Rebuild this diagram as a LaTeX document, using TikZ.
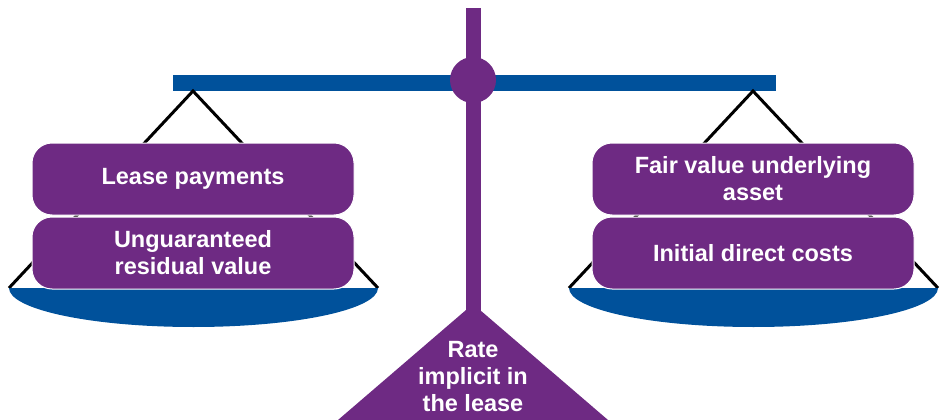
\documentclass[tikz,border=0pt]{standalone}
\usepackage{fontspec}
\setmainfont{Liberation Sans}
\definecolor{kpurple}{HTML}{6E2A83}
\definecolor{kblue}{HTML}{00519B}
\begin{document}
\begin{tikzpicture}[x=1pt,y=-1pt,
  box/.style={rectangle, rounded corners=20pt, fill=kpurple, draw=white, line width=1pt,
    minimum width=322pt, minimum height=72pt, text=white, align=center, inner sep=0pt,
    font=\fontsize{23.5}{27}\selectfont\bfseries},
  lbl/.style={text=white, align=center, inner sep=0pt, font=\fontsize{23.5}{27}\selectfont\bfseries},
  hanger/.style={black, line width=3pt},
  panfill/.style={fill=kblue},
  partfill/.style={fill=kpurple}]
\useasboundingbox (0,0) rectangle (943,420);
% pillar and base
\fill[partfill] (466,8) rectangle (480.5,320);
\fill[partfill] (473,304) -- (608,420) -- (338,420) -- cycle;
\node[lbl] (rate) at (473,377) {Rate\\implicit in\\the lease};
% beam and pivot
\fill[panfill] (173,75) rectangle (776,91);
\fill[partfill] (473,80) circle (23pt);
% hanger points
\coordinate (lh) at (193,91);
\coordinate (lpl) at (9,288);
\coordinate (lpr) at (378,288);
\coordinate (rh) at (753,91);
\coordinate (rpl) at (569,288);
\coordinate (rpr) at (938,288);
\draw[hanger] (lpl) -- (lh) -- (lpr);
\draw[hanger] (rpl) -- (rh) -- (rpr);
% pans
\begin{scope}
  \clip (0,288) rectangle (943,420);
  \fill[panfill] (193.5,288) ellipse [x radius=184.5pt, y radius=39pt];
  \fill[panfill] (753.5,288) ellipse [x radius=184.5pt, y radius=39pt];
\end{scope}
% boxes
\node[box] (lp)  at (193,179) {Lease payments};
\node[box] (urv) at (193,253) {Unguaranteed\\residual value};
\node[box] (fv)  at (753,179) {Fair value underlying\\asset};
\node[box] (idc) at (753,253) {Initial direct costs};
\end{tikzpicture}
\end{document}
